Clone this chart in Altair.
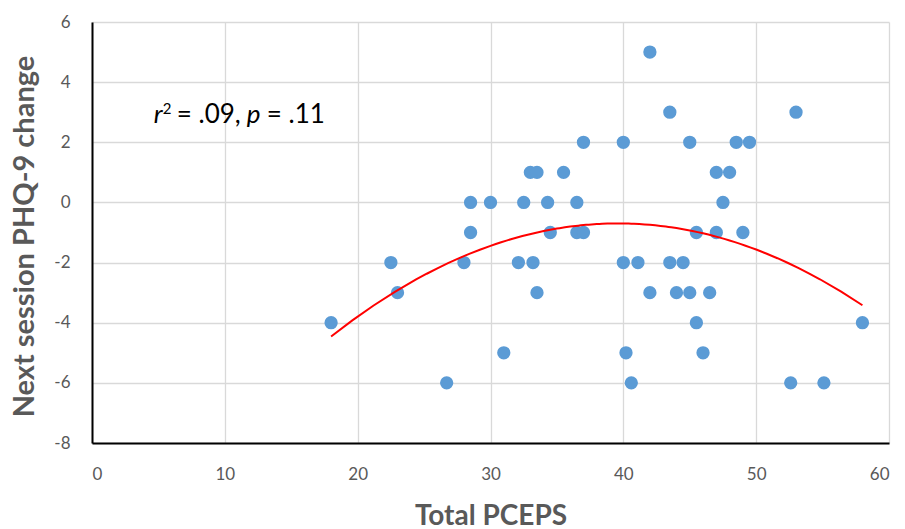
import altair as alt
import pandas as pd

# Total PCEPS score and next-session PHQ-9 change, one entry per session
pceps = [
    42.0,
    43.5, 53.0,
    37.0, 40.0, 45.0, 48.5, 49.5,
    33.0, 33.5, 35.5, 47.0, 48.0,
    28.5, 30.0, 32.5, 34.3, 36.5, 47.5,
    28.5, 34.5, 36.5, 37.0, 45.5, 47.0, 49.0,
    22.5, 28.0, 32.1, 33.2, 40.0, 41.1, 43.5, 44.5,
    23.0, 33.5, 42.0, 44.0, 45.0, 46.5,
    18.0, 45.5, 58.0,
    31.0, 40.2, 46.0,
    26.7, 40.6, 52.6, 55.1,
]
phq_change = [
    5,
    3, 3,
    2, 2, 2, 2, 2,
    1, 1, 1, 1, 1,
    0, 0, 0, 0, 0, 0,
    -1, -1, -1, -1, -1, -1, -1,
    -2, -2, -2, -2, -2, -2, -2, -2,
    -3, -3, -3, -3, -3, -3,
    -4, -4, -4,
    -5, -5, -5,
    -6, -6, -6, -6,
]

x_ticks = [0, 10, 20, 30, 40, 50, 60]
y_ticks = [-8, -6, -4, -2, 0, 2, 4, 6]

df = pd.DataFrame({"pceps": pceps, "phq": phq_change})

GREY = "#595959"
FONT = "Lato"

# plain hyphen for negative tick labels
PLAIN_LABEL = "'' + datum.value"

x_enc = alt.X(
    "pceps:Q",
    scale=alt.Scale(domain=[0, 60], nice=False, zero=False),
    axis=alt.Axis(
        values=x_ticks,
        title="Total PCEPS",
        grid=True,
        gridColor="#d9d9d9",
        gridWidth=1.3,
        domainColor="#000000",
        domainWidth=2,
        ticks=False,
        tickSize=0,
        labelFontSize=17,
        labelColor=GREY,
        labelPadding=23,
        labelExpr=PLAIN_LABEL,
        titleFontSize=28,
        titleFontWeight="bold",
        titleColor=GREY,
        titleBaseline="alphabetic",
        titleY=81,
    ),
)
y_enc = alt.Y(
    "phq:Q",
    scale=alt.Scale(domain=[-8, 6], nice=False, zero=False),
    axis=alt.Axis(
        values=y_ticks,
        title="Next session PHQ-9 change",
        grid=True,
        gridColor="#d9d9d9",
        gridWidth=1.3,
        domainColor="#000000",
        domainWidth=2,
        ticks=False,
        tickSize=0,
        labelFontSize=17,
        labelColor=GREY,
        labelPadding=22,
        labelExpr=PLAIN_LABEL,
        titleFontSize=29,
        titleFontWeight="bold",
        titleColor=GREY,
        titleBaseline="alphabetic",
        titleAlign="center",
        titleAngle=-90,
        titleX=-59,
        titleY=214,
    ),
)

points = alt.Chart(df).mark_circle(size=177, color="#5B9BD5", opacity=1).encode(
    x=x_enc, y=y_enc
)

# Second-order polynomial trend fitted over the observed PCEPS range
trend = (
    alt.Chart(df)
    .transform_regression("pceps", "phq", method="poly", order=2)
    .mark_line(color="#FF0000", strokeWidth=2)
    .encode(x="pceps:Q", y="phq:Q")
)

# Fit statistics label, pieced together for italics and the superscript
anchor_x, anchor_y = 4.65, 2.64
one = alt.Data(values=[{}])


def piece(text, dx, dy=0, size=26, style="normal"):
    return alt.Chart(one).mark_text(
        text=text,
        align="left",
        baseline="alphabetic",
        dx=dx,
        dy=dy,
        fontSize=size,
        fontStyle=style,
        font=FONT,
        color="#000000",
    ).encode(x=alt.datum(anchor_x), y=alt.datum(anchor_y))


stats = (
    piece("r", 0, style="italic")
    + piece("2", 9, dy=-9, size=15)
    + piece("= .09,", 23)
    + piece("p", 93, style="italic")
    + piece("= .11", 113)
)

chart = (
    alt.layer(points, trend, stats)
    .properties(
        width=797,
        height=421,
        autosize=alt.AutoSizeParams(type="none"),
        padding={"left": 92, "top": 22, "right": 16, "bottom": 86},
        background="#ffffff",
    )
    .configure(font=FONT)
    .configure_view(stroke=None)
)

chart.save("out.html", embed_options={"renderer": "svg", "actions": False})
